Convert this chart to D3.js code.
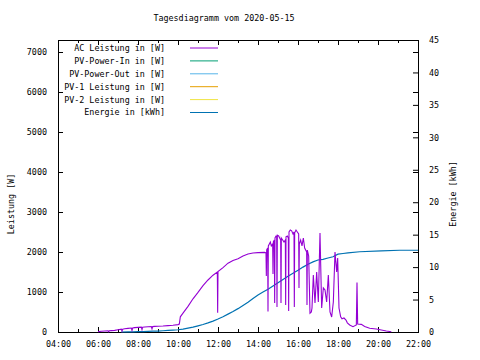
<!DOCTYPE html>
<html>
<head>
<meta charset="utf-8">
<script src="https://cdn.jsdelivr.net/npm/d3@7"></script>
<style>
html,body{margin:0;padding:0;background:#fff;}
svg{display:block;}
text{font-family:"DejaVu Sans Mono",monospace;font-size:8.4px;fill:#000;}
</style>
</head>
<body>
<svg id="chart" width="480" height="360"></svg>
<script>
// ---------- data ----------
const title = "Tagesdiagramm vom 2020-05-15";
const yLabel = "Leistung [W]";
const y2Label = "Energie [kWh]";

const legendNames = ["AC Leistung in [W]", "PV-Power-In in [W]", "PV-Power-Out in [W]",
                     "PV-1 Leistung in [W]", "PV-2 Leistung in [W]", "Energie in [kWh]"];
const legendColors = ["#9400d3", "#009e73", "#56b4e9", "#e69f00", "#f0e442", "#0072b2"];

const xTickHours = [4, 6, 8, 10, 12, 14, 16, 18, 20, 22];
const xTickLabels = ["04:00", "06:00", "08:00", "10:00", "12:00", "14:00", "16:00", "18:00", "20:00", "22:00"];
const xMinorHours = [5, 7, 9, 11, 13, 15, 17, 19, 21];
const yTicks = [0, 1000, 2000, 3000, 4000, 5000, 6000, 7000];
const y2Ticks = [0, 5, 10, 15, 20, 25, 30, 35, 40, 45];

// AC Leistung [W]
const acTimes = [
  "06:00","06:10","06:20","06:30","06:32","06:34","06:40","06:50","07:00","07:10","07:12","07:14","07:20","07:30",
  "07:40","07:42","07:44","07:50","08:00","08:10","08:12","08:14","08:20","08:30","08:40","08:42","08:44","08:50",
  "09:00","09:15","09:30","09:45","10:00","10:04","10:07","10:15","10:30","10:45","11:00","11:15","11:30","11:45",
  "11:58","11:59","12:00","12:15","12:30","12:45","13:00","13:15","13:30","13:45","14:00","14:20","14:24","14:25",
  "14:26","14:29","14:30","14:31","14:34","14:37","14:40","14:44","14:45","14:46","14:49","14:50","14:51","14:54",
  "14:56","14:57","14:58","15:02","15:05","15:08","15:09","15:10","15:14","15:18","15:22","15:23","15:24","15:28",
  "15:31","15:32","15:33","15:37","15:41","15:45","15:48","15:49","15:50","15:54","15:58","16:02","16:03","16:04",
  "16:08","16:12","16:16","16:20","16:26","16:27","16:28","16:32","16:36","16:40","16:42","16:46","16:51","16:56",
  "17:01","17:06","17:11","17:16","17:21","17:26","17:31","17:36","17:41","17:46","17:51","17:56","17:59","18:03",
  "18:08","18:12","18:18","18:24","18:28","18:35","18:45","18:55","18:57","18:59","19:10","19:20","19:35","19:55",
  "20:10","20:25","20:40"];
const acValues = [
  10,20,25,30,5,30,35,40,55,70,20,70,80,90,
  100,40,100,110,115,120,60,120,125,130,135,80,135,140,
  145,150,160,170,185,200,380,470,640,830,990,1160,1300,1420,
  1500,480,1510,1610,1720,1790,1830,1900,1950,1975,1985,1990,1980,1400,
  2050,2100,510,2150,2200,2250,2150,2200,1450,2250,2300,725,2350,2400,
  2400,625,2420,2400,2350,2300,725,2350,2300,2250,2300,675,2380,2400,
  2350,525,2500,2550,2530,2450,2500,625,2480,2550,2500,2450,1100,2200,
  2300,2150,2350,2100,2000,675,2050,1900,470,500,600,1425,725,1500,
  750,2475,600,1100,1050,750,1425,500,375,750,2000,1500,1850,600,
  380,330,350,300,230,175,133,175,1240,200,190,140,92,75,
  50,25,5];

// Energie [kWh]
const enTimes = ["07:10","07:30","07:45","08:00","08:15","08:30","08:45","09:00","09:15","09:30","09:45","10:00",
  "10:15","10:30","10:45","11:00","11:15","11:30","11:45","12:00","12:15","12:30","12:45","13:00","13:15","13:30",
  "13:45","14:00","14:15","14:30","14:45","15:00","15:15","15:30","15:45","16:00","16:15","16:30","16:45","17:00",
  "17:15","17:30","17:45","18:00","18:15","18:30","19:05","20:10","21:05","22:00"];
const enValues = [0,0.02,0.03,0.05,0.07,0.09,0.12,0.15,0.19,0.24,0.29,0.35,
  0.45,0.6,0.76,0.95,1.15,1.4,1.68,2.0,2.35,2.75,3.15,3.6,4.1,4.6,
  5.15,5.7,6.15,6.6,7.1,7.6,8.1,8.6,9.05,9.5,10.0,10.45,10.8,11.1,
  11.2,11.4,11.6,12.0,12.1,12.2,12.37,12.5,12.6,12.6];

// ---------- drawing ----------
const toH = s => { const [h, m] = s.split(":").map(Number); return h + m / 60; };
const svg = d3.select("#chart");
const L = 58, R = 418, T = 40, B = 332;

const x = d3.scaleLinear().domain([4, 22]).range([L, R]);
const y = d3.scaleLinear().domain([0, 7300]).range([B, T]);
const y2 = d3.scaleLinear().domain([0, 45]).range([B, T]);

function styleAxis(g) {
  g.select(".domain").remove();
  g.selectAll("line").attr("stroke", "#000").attr("stroke-width", 1);
  g.selectAll("text").attr("font-family", null).attr("font-size", null);
}

// x axes (bottom with labels, top mirrored) major + minor
svg.append("g").attr("transform", `translate(0,${B})`)
  .call(d3.axisBottom(x).tickValues(xTickHours).tickFormat((d, i) => xTickLabels[i]).tickSize(-5).tickPadding(9))
  .call(styleAxis);
svg.append("g").attr("transform", `translate(0,${B})`)
  .call(d3.axisBottom(x).tickValues(xMinorHours).tickFormat("").tickSize(-3)).call(styleAxis);
svg.append("g").attr("transform", `translate(0,${T})`)
  .call(d3.axisTop(x).tickValues(xTickHours).tickFormat("").tickSize(-5)).call(styleAxis);
svg.append("g").attr("transform", `translate(0,${T})`)
  .call(d3.axisTop(x).tickValues(xMinorHours).tickFormat("").tickSize(-3)).call(styleAxis);

// y axes
svg.append("g").attr("transform", `translate(${L},0)`)
  .call(d3.axisLeft(y).tickValues(yTicks).tickFormat(d3.format("d")).tickSize(-5).tickPadding(11))
  .call(styleAxis);
svg.append("g").attr("transform", `translate(${R},0)`)
  .call(d3.axisRight(y).tickValues(yTicks).tickFormat("").tickSize(-5)).call(styleAxis);
svg.append("g").attr("transform", `translate(${R},0)`)
  .call(d3.axisRight(y2).tickValues(y2Ticks).tickFormat(d3.format("d")).tickSize(-5).tickPadding(11))
  .call(styleAxis);

// frame
svg.append("rect").attr("x", L + 0.5).attr("y", T + 0.5).attr("width", R - L).attr("height", B - T)
  .attr("fill", "none").attr("stroke", "#000").attr("stroke-width", 1);

// lines
const acData = acTimes.map((t, i) => [toH(t), acValues[i]]);
const enData = enTimes.map((t, i) => [toH(t), enValues[i]]);

svg.append("path").datum(enData)
  .attr("fill", "none").attr("stroke", legendColors[5]).attr("stroke-width", 1.2)
  .attr("d", d3.line().x(d => x(d[0])).y(d => y2(d[1])));

svg.append("path").datum(acData)
  .attr("fill", "none").attr("stroke", legendColors[0]).attr("stroke-width", 1.1)
  .attr("d", d3.line().x(d => x(d[0])).y(d => y(d[1])));

// legend
const lg = svg.append("g");
legendNames.forEach((name, i) => {
  const cy = 48 + i * 12.9;
  lg.append("text").attr("x", 165).attr("y", cy).attr("dy", "0.35em").attr("text-anchor", "end").text(name);
  lg.append("line").attr("x1", 190).attr("x2", 218).attr("y1", cy).attr("y2", cy)
    .attr("stroke", legendColors[i]).attr("stroke-width", 1);
});

// title and axis labels
svg.append("text").attr("x", 224).attr("y", 18).attr("dy", "0.35em").attr("text-anchor", "middle").text(title);
svg.append("text").attr("transform", "translate(11,204) rotate(-90)").attr("dy", "0.35em")
  .attr("text-anchor", "middle").text(yLabel);
svg.append("text").attr("transform", "translate(453,194) rotate(-90)").attr("dy", "0.35em")
  .attr("text-anchor", "middle").text(y2Label);
</script>
</body>
</html>
